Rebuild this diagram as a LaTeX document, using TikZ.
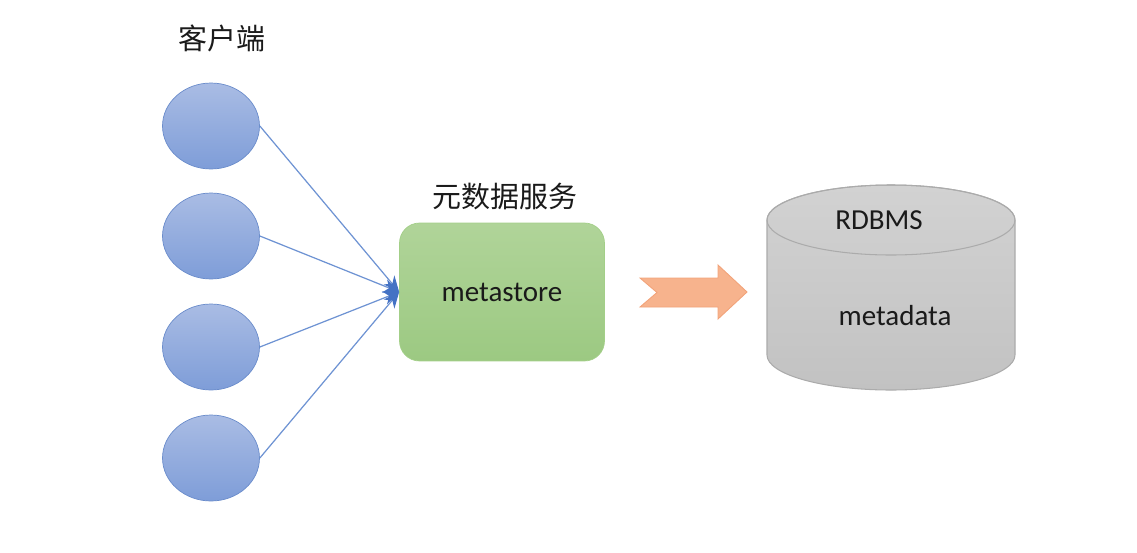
\documentclass[tikz,border=0pt]{standalone}
\usepackage{fontspec}
\setmainfont{Carlito}
\newfontfamily\cjk{Noto Sans CJK SC}
\usetikzlibrary{shapes.geometric,arrows.meta,positioning,calc}
\definecolor{cliTop}{HTML}{A9BCE4}
\definecolor{cliBot}{HTML}{7E9DD8}
\definecolor{cliLine}{HTML}{6A8CCB}
\definecolor{linkBlue}{HTML}{6E93D3}
\definecolor{tipBlue}{HTML}{4472C4}
\definecolor{msTop}{HTML}{B0D499}
\definecolor{msBot}{HTML}{9CC982}
\definecolor{msLine}{HTML}{A3CF88}
\definecolor{flowFill}{HTML}{F7B38D}
\definecolor{flowLine}{HTML}{F2A37A}
\definecolor{dbTop}{HTML}{D2D2D2}
\definecolor{dbBot}{HTML}{C2C2C2}
\definecolor{dbLine}{HTML}{ABABAB}
\definecolor{txt}{HTML}{1A1A1A}

\begin{document}
\begin{tikzpicture}[
    x=0.02cm, y=0.02cm,
    every node/.style={font=\fontsize{16.5}{20}\selectfont, text=txt},
    client/.style={ellipse, draw=cliLine, top color=cliTop, bottom color=cliBot,
                   minimum width=1.94cm, minimum height=1.72cm, inner sep=0pt},
    service/.style={draw=msLine, top color=msTop, bottom color=msBot, rounded corners=0.4cm,
                    minimum width=4.1cm, minimum height=2.76cm},
    link/.style={linkBlue, line width=0.7pt, -{Stealth[length=9pt, width=8pt, color=tipBlue]}},
  ]
  \useasboundingbox (0,0) rectangle (1137,-552);

  % Clients
  \node (title) at (222,-38) {\cjk 客户端};
  \node[client] (client1) at (211,-126) {};
  \node[client] (client2) at (211,-236) {};
  \node[client] (client3) at (211,-347) {};
  \node[client] (client4) at (211,-458) {};

  % Metastore service
  \node (svclabel) at (505,-197) {\cjk 元数据服务};
  \node[service] (metastore) at (502,-292) {metastore};

  % Client connections
  \draw[link] (client1.east) -- (metastore.west);
  \draw[link] (client2.east) -- (metastore.west);
  \draw[link] (client3.east) -- (metastore.west);
  \draw[link] (client4.east) -- (metastore.west);

  % Flow arrow
  \filldraw[fill=flowFill, draw=flowLine, line width=0.5pt]
    (640,-278) -- (718,-278) -- (718,-265) -- (747,-292) -- (718,-319)
    -- (718,-307) -- (640,-307) -- (657,-292.5) -- cycle;

  % Database cylinder
  \path[draw=dbLine, top color=dbTop, bottom color=dbBot, line width=0.6pt]
    (767,-220) -- (767,-355) arc[start angle=180, end angle=360, x radius=124, y radius=35]
    -- (1015,-220) arc[start angle=0, end angle=180, x radius=124, y radius=35] -- cycle;
  \draw[dbLine, line width=0.6pt] (891,-220) ellipse[x radius=124, y radius=35];
  \node (rdbms) at (879,-220) {RDBMS};
  \node (metadata) at (895,-316) {metadata};
\end{tikzpicture}
\end{document}
